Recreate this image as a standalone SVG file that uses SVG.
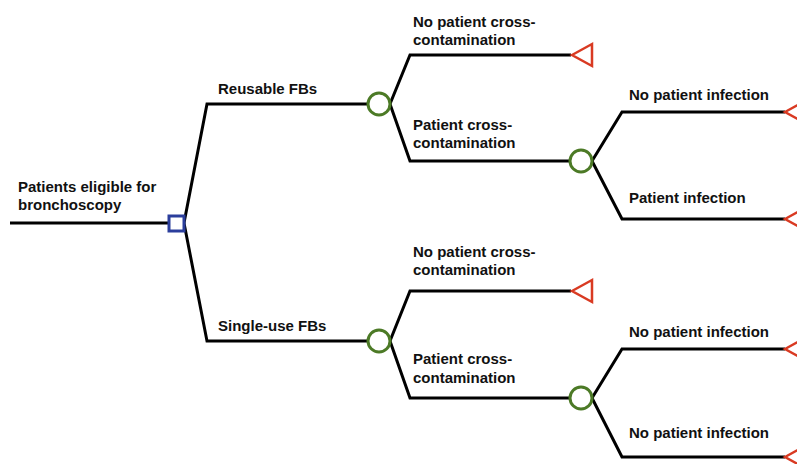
<svg xmlns="http://www.w3.org/2000/svg" width="797" height="464" viewBox="0 0 797 464">
<style>
.ln{fill:none;stroke:#000;stroke-width:3;stroke-linejoin:miter}
.ch{fill:#fff;stroke:#4c7a26;stroke-width:3}
.dc{fill:#fff;stroke:#2b3e9c;stroke-width:3}
.tm{fill:#fff;stroke:#d93a22;stroke-width:2.5}
text{font-family:"Liberation Sans",Arial,sans-serif;font-weight:bold;font-size:15px;fill:#111}
</style>
<rect width="797" height="464" fill="#fff"/>
<g id="connectors">
<path class="ln" d="M10,223 H169"/>
<path class="ln" d="M184,223 L207,104 H368"/>
<path class="ln" d="M184,223 L207,341 H368"/>
<path class="ln" d="M390,104 L410,55 H571"/>
<path class="ln" d="M390,104 L410,161 H570"/>
<path class="ln" d="M592,161 L622,112 H785"/>
<path class="ln" d="M592,161 L622,219 H785"/>
<path class="ln" d="M390,341 L410,291 H571"/>
<path class="ln" d="M390,341 L410,398 H570"/>
<path class="ln" d="M592,398 L622,349 H785"/>
<path class="ln" d="M592,398 L622,457 H785"/>
</g>
<g id="root"><text x="18" y="192">Patients eligible for</text><text x="18" y="210">bronchoscopy</text></g>
<g id="decision"><rect class="dc" x="169" y="216" width="15" height="15"/></g>
<g id="reusable"><text x="218" y="94">Reusable FBs</text><circle class="ch" cx="379" cy="104" r="11"/></g>
<g id="single"><text x="218" y="331">Single-use FBs</text><circle class="ch" cx="379" cy="341" r="11"/></g>
<g id="r-nocc"><text x="413" y="27">No patient cross-</text><text x="413" y="45">contamination</text><polygon class="tm" points="572,55 592,44 592,66"/></g>
<g id="r-cc"><text x="413" y="130">Patient cross-</text><text x="413" y="148">contamination</text><circle class="ch" cx="581" cy="161" r="11"/></g>
<g id="r-noinf"><text x="629" y="100">No patient infection</text><polygon class="tm" points="785,112 805,101 805,123"/></g>
<g id="r-inf"><text x="629" y="203">Patient infection</text><polygon class="tm" points="785,219 805,208 805,230"/></g>
<g id="s-nocc"><text x="413" y="257">No patient cross-</text><text x="413" y="275">contamination</text><polygon class="tm" points="572,291 592,280 592,302"/></g>
<g id="s-cc"><text x="413" y="364">Patient cross-</text><text x="413" y="383">contamination</text><circle class="ch" cx="581" cy="398" r="11"/></g>
<g id="s-noinf1"><text x="629" y="337">No patient infection</text><polygon class="tm" points="785,349 805,338 805,360"/></g>
<g id="s-noinf2"><text x="629" y="438">No patient infection</text><polygon class="tm" points="785,457 805,446 805,468"/></g>
</svg>
